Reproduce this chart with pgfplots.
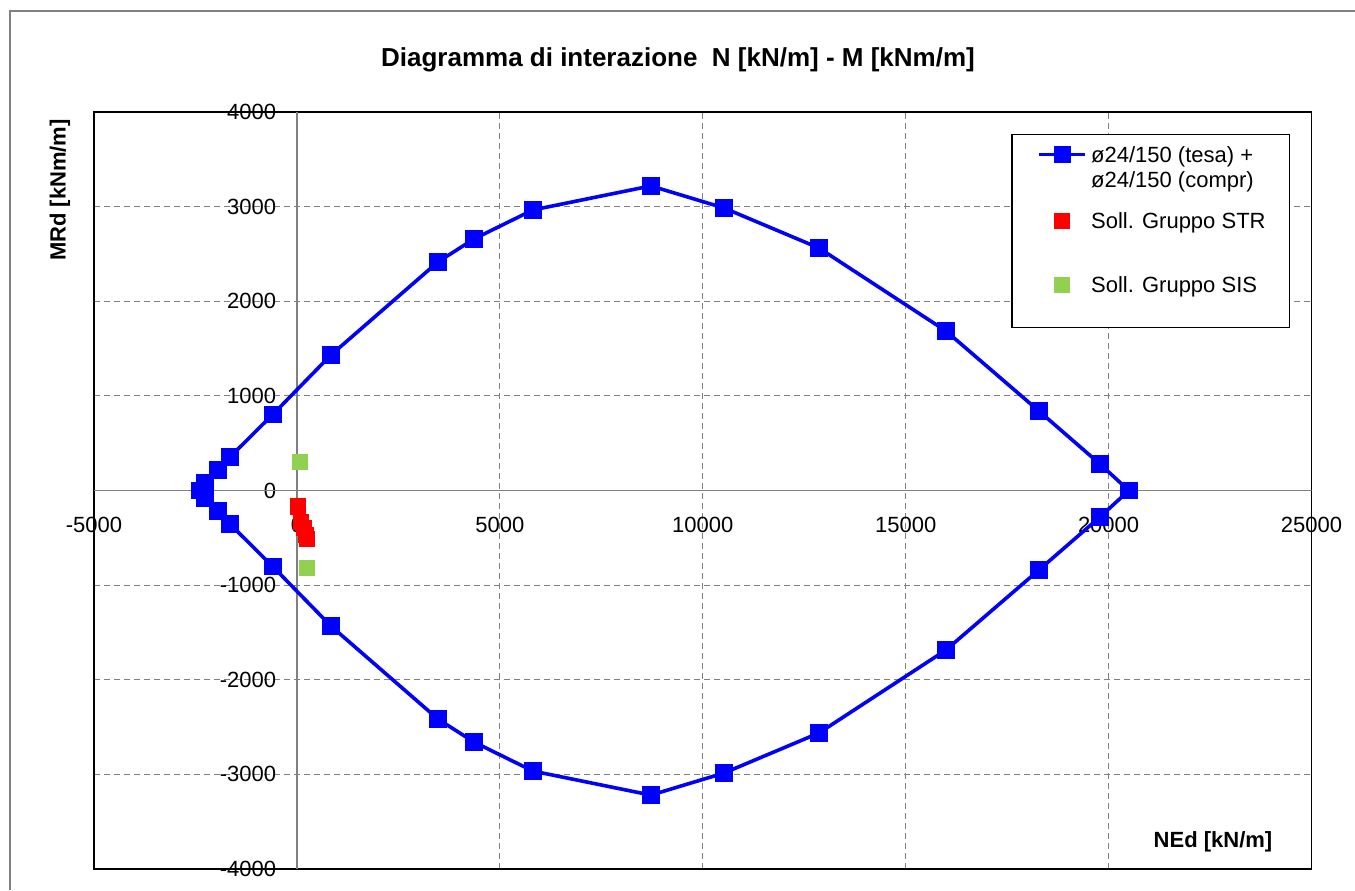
\documentclass[border=0pt]{standalone}
\usepackage{pgfplots}
\pgfplotsset{compat=1.18}
\usepackage{fontspec}
\setmainfont{Liberation Sans}
\definecolor{sisgreen}{RGB}{146,208,80}
\definecolor{gridgray}{RGB}{128,128,128}
\pgfplotsset{
  leglineimg/.style={legend image code/.code={\draw[##1, mark repeat=2, mark phase=2] plot coordinates {(0pt,3.9pt) (11.5pt,3.9pt) (23pt,3.9pt)};}},
  legmarkimg/.style={legend image code/.code={\path[draw=none,fill=none] (0pt,3.9pt) -- (23pt,3.9pt); \draw[##1, draw=none] plot coordinates {(11.5pt,3.9pt)};}},
}
\begin{document}
\begin{tikzpicture}[x=1pt,y=1pt]
\useasboundingbox (0,0) rectangle (677.5,445);
\fill[white] (0,0) rectangle (677.5,445);
\draw[gridgray, line width=1pt] (5,0) -- (5,439.5) -- (677.5,439.5);
\begin{axis}[
  at={(47pt,10.5pt)}, anchor=south west,
  scale only axis, width=608.75pt, height=378.5pt,
  xmin=-5000, xmax=25000, ymin=-4000, ymax=4000,
  xtick={-5000,0,5000,10000,15000,20000,25000},
  ytick={-4000,-3000,-2000,-1000,0,1000,2000,3000,4000},
  scaled ticks=false,
  /pgf/number format/1000 sep={},
  /pgf/number format/assume math mode=true,
  tick style={draw=none},
  grid=major,
  major grid style={gridgray, line width=0.6pt, dash pattern=on 3pt off 2pt},
  axis line style={black, line width=0.6pt},
  ticklabel style={font=\fontsize{11}{13}\selectfont},
  xticklabel style={yshift=179.7pt},
  yticklabel style={xshift=94.6pt},
  legend style={draw=none, fill=none, at={(rel axis cs:0.775,0.962)}, anchor=north west,
    inner sep=0pt, outer sep=0pt, row sep=0pt, cells={anchor=base west},
    font=\fontsize{11}{12.5}\selectfont},
]
\draw[black, line width=0.6pt, fill=white] (rel axis cs:0.754,0.715) rectangle (rel axis cs:0.982,0.970);
\draw[gridgray, line width=0.7pt] (axis cs:0,-4000) -- (axis cs:0,4000);
\draw[gridgray, line width=0.7pt] (axis cs:-5000,0) -- (axis cs:25000,0);

\addplot[blue, line width=1.8pt, mark=square*, mark size=3.5pt, mark options={solid}, leglineimg]
coordinates {
(-2390,0) (-2267,85) (-1946,214) (-1650,354) (-591,805) (838,1432)
(3474,2415) (4361,2658) (5815,2965) (8723,3219) (10521,2986) (12862,2563)
(15991,1686) (18283,840) (19786,280) (20500,0)
(19786,-280) (18283,-840) (15991,-1686) (12862,-2563) (10521,-2986) (8723,-3219)
(5815,-2965) (4361,-2658) (3474,-2415) (838,-1432) (-591,-805)
(-1650,-354) (-1946,-214) (-2267,-85) (-2390,0)
};
\addlegendentry{\begin{tabular}[t]{@{}l@{}}ø24/150 (tesa) +\\ø24/150 (compr)\end{tabular}}

\addplot[only marks, mark=square*, mark size=3.75pt, color=red, legmarkimg]
coordinates {
(20,-160) (30,-175) (100,-330) (180,-400) (220,-470) (240,-510)
};
\addlegendentry{\rule{0pt}{27.6pt}Soll. Gruppo STR}

\addplot[only marks, mark=square*, mark size=3.75pt, color=sisgreen, legmarkimg]
coordinates {
(74,307) (240,-815)
};
\addlegendentry{\rule{0pt}{26.6pt}Soll. Gruppo SIS}
\end{axis}
\node[font=\bfseries\fontsize{13}{15}\selectfont] at (339,415) {Diagramma di interazione\ \ N [kN/m] - M [kNm/m]};
\node[font=\bfseries\fontsize{11}{13}\selectfont, rotate=90] at (30,350) {MRd [kNm/m]};
\node[font=\bfseries\fontsize{11}{13}\selectfont] at (606.5,24) {NEd [kN/m]};
\end{tikzpicture}
\end{document}
